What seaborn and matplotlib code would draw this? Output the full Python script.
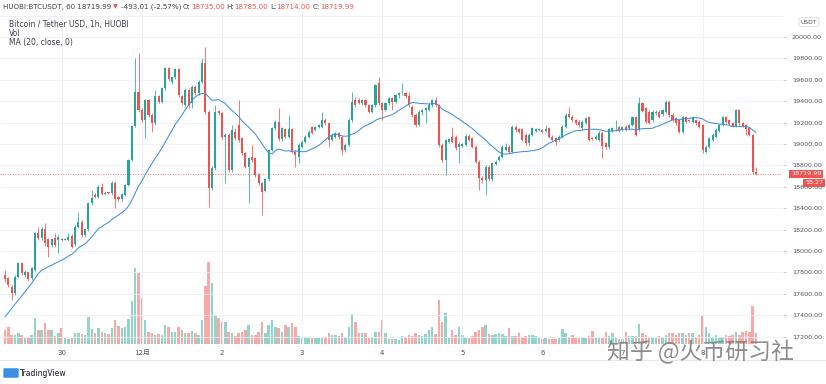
import numpy as np
import pandas as pd
import matplotlib
matplotlib.use("Agg")
import matplotlib.pyplot as plt
import matplotlib.transforms as mtransforms
from matplotlib.lines import Line2D
from matplotlib.patches import FancyBboxPatch
import seaborn as sns

# hourly candles, HUOBI BTC/USDT
opens = [
    17774, 17743, 17665, 17603, 17759, 17884, 17774, 17806, 17743, 17821,
    18164, 18117, 18205, 18108, 18055, 18117, 18102, 18110, 18106, 18102,
    18140, 18065, 18221, 18273, 18149, 18202, 18445, 18523, 18507, 18601,
    18532, 18545, 18538, 18638, 18507, 18482, 18523, 18616, 18850, 19168,
    19489, 19320, 19224, 19411, 19271, 19193, 19448, 19395, 19520, 19707,
    19582, 19623, 19698, 19448, 19364, 19504,
    19380, 19536, 19473, 19582, 19760, 19300, 18585, 18772, 19311, 19286,
    19068, 19084, 18756, 19110, 19177, 19052, 18912, 18788, 18881, 18866,
    18710, 18632, 18563, 18669, 18943, 19146, 19208, 19043, 19137, 19068,
    19137, 18928, 18881, 18975, 19021, 19068, 19155, 19130, 19155, 19161,
    19224, 19193, 19037, 19068, 19099, 19062, 18943, 18990, 19224, 19411,
    19411, 19380, 19411, 19364, 19302, 19364,
    19567, 19380, 19317, 19380, 19427, 19395, 19458, 19473, 19480, 19450,
    19349, 19271, 19177, 19302, 19317, 19317, 19364, 19411, 19364, 18990,
    18850, 19021, 19068, 19068, 18968, 18981, 18990, 19074, 19052, 18975,
    18834, 18678, 18665, 18788, 18669, 18812, 18850, 18881, 18943, 18975,
    18928, 19162, 19137, 19137, 19084, 19006, 19084, 19124, 19130, 19130,
    19124, 19146, 19068, 19052, 19037, 19068, 19162,
    19280, 19255, 19224, 19208, 19146, 19199, 19249, 19055, 19047, 19037,
    19106, 19006, 18968, 19124, 19137, 19155, 19130, 19162, 19146, 19177,
    19249, 19130, 19380, 19333, 19302, 19224, 19286, 19302, 19280, 19302,
    19395, 19271, 19240, 19224, 19115, 19249, 19220, 19208, 19224, 19208,
    19177, 18928, 18975, 19037, 19068, 19124, 19177, 19249, 19224, 19199,
    19168, 19317, 19193, 19177, 19146, 19084, 18735,
]
highs = [
    17821, 17759, 17681, 17774, 17899, 17899, 17820, 17815, 17850, 18180,
    18227, 18227, 18258, 18120, 18125, 18164, 18145, 18120, 18125, 18164,
    18155, 18240, 18367, 18290, 18215, 18460, 18569, 18540, 18616, 18632,
    18560, 18555, 18650, 18650, 18515, 18545, 18630, 18860, 19180, 19801,
    19854, 19335, 19425, 19425, 19285, 19504, 19460, 19535, 19723, 19723,
    19640, 19712, 19712, 19460, 19520, 19520,
    19550, 19550, 19600, 19801, 19910, 19320, 18790, 19364, 19320, 19300,
    19100, 19100, 19177, 19146, 19411, 19065, 18925, 18880, 18990, 18880,
    18725, 18645, 18680, 18955, 19160, 19225, 19333, 19160, 19150, 19271,
    19150, 18940, 19005, 19035, 19080, 19130, 19170, 19165, 19190, 19302,
    19240, 19205, 19100, 19115, 19110, 19075, 19005, 19240, 19489, 19440,
    19430, 19425, 19425, 19375, 19375, 19565,
    19629, 19395, 19395, 19440, 19440, 19470, 19485, 19567, 19490, 19485,
    19360, 19285, 19315, 19330, 19345, 19380, 19425, 19436, 19375, 19005,
    19050, 19055, 19155, 19080, 19015, 19010, 19090, 19090, 19065, 18990,
    18850, 18700, 18800, 18800, 18835, 18850, 18895, 18990, 19006, 18990,
    19175, 19175, 19150, 19150, 19100, 19100, 19160, 19150, 19145, 19140,
    19177, 19160, 19080, 19065, 19080, 19175, 19285,
    19349, 19270, 19235, 19220, 19220, 19255, 19262, 19062, 19080, 19118,
    19118, 19020, 19150, 19160, 19224, 19168, 19168, 19175, 19190, 19262,
    19262, 19436, 19395, 19345, 19315, 19315, 19315, 19315, 19330, 19410,
    19410, 19285, 19255, 19235, 19262, 19262, 19235, 19262, 19235, 19220,
    19190, 18990, 19065, 19100, 19145, 19190, 19262, 19262, 19235, 19210,
    19330, 19330, 19205, 19190, 19160, 19095, 18785,
]
lows = [
    17712, 17665, 17541, 17587, 17743, 17774, 17760, 17720, 17730, 17810,
    18100, 18100, 18050, 17946, 18040, 18040, 17977, 18095, 18098, 18090,
    18024, 18050, 18210, 18135, 18135, 18190, 18430, 18495, 18495, 18520,
    18520, 18530, 18525, 18398, 18470, 18470, 18510, 18605, 18840, 19155,
    19300, 19210, 19052, 19255, 19115, 19180, 19380, 19380, 19505, 19590,
    19560, 19610, 19440, 19365, 19350, 19333,
    19333, 19460, 19460, 19570, 19280, 18413, 18569, 18760, 19270, 19050,
    18632, 18740, 18740, 19040, 19020, 18900, 18775, 18445, 18835, 18695,
    18615, 18336, 18550, 18655, 18930, 19130, 19030, 19030, 19055, 19055,
    18915, 18788, 18819, 18960, 19010, 19055, 19095, 19120, 19145, 19150,
    19180, 18975, 19025, 19055, 19050, 18897, 18925, 18980, 19210, 19350,
    19370, 19365, 19350, 19290, 19290, 19350,
    19365, 19224, 19305, 19365, 19317, 19380, 19430, 19460, 19430, 19350,
    19255, 19160, 19165, 19275, 19195, 19305, 19350, 19350, 18975, 18835,
    18710, 19010, 19005, 18945, 18819, 18970, 18978, 19025, 18960, 18820,
    18569, 18632, 18523, 18655, 18650, 18800, 18840, 18865, 18930, 18915,
    18915, 19115, 19100, 19025, 18990, 18990, 19070, 19110, 19120, 19100,
    19110, 19055, 19025, 18990, 19025, 19055, 19150,
    19240, 19210, 19180, 19160, 19130, 19185, 19025, 19035, 19035, 19025,
    18866, 18955, 18955, 19110, 19125, 19110, 19118, 19118, 19135, 19165,
    19070, 19118, 19300, 19195, 19185, 19210, 19275, 19240, 19265, 19290,
    19255, 19210, 19180, 19100, 19100, 19195, 19205, 19195, 19180, 19150,
    18912, 18915, 18960, 19025, 19055, 19110, 19165, 19195, 19175, 19155,
    19155, 19180, 19155, 19084, 19070, 18720, 18714,
]
closes = [
    17734, 17681, 17603, 17753, 17884, 17790, 17806, 17734, 17837, 18164,
    18117, 18205, 18071, 18040, 18108, 18055, 18133, 18106, 18110, 18133,
    18040, 18227, 18273, 18149, 18202, 18445, 18491, 18507, 18601, 18532,
    18545, 18540, 18638, 18482, 18482, 18532, 18616, 18850, 19168, 19489,
    19317, 19224, 19411, 19271, 19193, 19448, 19395, 19520, 19707, 19604,
    19623, 19698, 19458, 19380, 19504, 19364,
    19536, 19473, 19582, 19760, 19300, 18585, 18772, 19302, 19286, 19068,
    19084, 18756, 19130, 19060, 19037, 18912, 18788, 18866, 18850, 18710,
    18632, 18554, 18669, 18943, 19146, 19208, 19043, 19146, 19068, 19137,
    18928, 18897, 18990, 19021, 19068, 19115, 19106, 19155, 19177, 19224,
    19193, 19037, 19084, 19099, 19062, 18943, 18990, 19224, 19395, 19364,
    19380, 19411, 19364, 19302, 19364, 19551,
    19380, 19317, 19380, 19427, 19395, 19458, 19473, 19480, 19450, 19364,
    19271, 19177, 19302, 19317, 19333, 19364, 19411, 19364, 18990, 18850,
    19037, 19043, 19021, 18959, 18999, 18999, 19074, 19037, 18975, 18834,
    18678, 18665, 18788, 18669, 18819, 18834, 18881, 18975, 18975, 18928,
    19162, 19130, 19115, 19037, 19006, 19084, 19146, 19137, 19130, 19115,
    19137, 19068, 19037, 19021, 19068, 19162, 19271,
    19255, 19224, 19193, 19177, 19208, 19240, 19037, 19047, 19068, 19106,
    18981, 18968, 19137, 19146, 19137, 19124, 19155, 19130, 19177, 19249,
    19084, 19380, 19311, 19208, 19199, 19302, 19302, 19255, 19317, 19395,
    19271, 19224, 19193, 19115, 19249, 19208, 19218, 19249, 19193, 19162,
    18943, 18975, 19052, 19084, 19130, 19177, 19249, 19208, 19186, 19168,
    19317, 19193, 19168, 19137, 19084, 18735, 18719.99,
]
volumes = [
    140, 170, 90, 90, 110, 90, 70, 70, 90, 260,
    140, 140, 210, 140, 140, 80, 110, 160, 60, 50,
    60, 110, 110, 100, 90, 270, 150, 110, 160, 120,
    110, 100, 160, 240, 180, 160, 170, 250, 430, 760,
    710, 460, 240, 120, 110, 90, 100, 90, 190, 170,
    120, 120, 170, 140, 110, 110,
    130, 110, 90, 240, 580, 820, 610, 290, 260, 220,
    220, 120, 110, 80, 110, 120, 140, 190, 90, 90,
    120, 220, 110, 190, 240, 170, 160, 120, 190, 170,
    210, 170, 80, 70, 70, 70, 60, 60, 60, 70,
    70, 110, 90, 90, 80, 110, 70, 170, 300, 220,
    110, 110, 110, 70, 70, 120,
    120, 240, 110, 50, 50, 50, 40, 80, 70, 90,
    80, 110, 90, 80, 100, 140, 170, 100, 440, 220,
    310, 60, 140, 90, 170, 90, 70, 60, 80, 120,
    140, 170, 190, 100, 90, 100, 110, 100, 80, 160,
    80, 80, 110, 70, 80, 90, 90, 80, 60, 50,
    60, 50, 50, 50, 60, 150, 110,
    70, 90, 60, 60, 70, 60, 80, 130, 60, 60,
    60, 120, 80, 110, 70, 50, 50, 120, 80, 80,
    80, 200, 110, 90, 70, 70, 70, 80, 70, 90,
    110, 110, 90, 110, 110, 90, 110, 110, 70, 90,
    290, 170, 110, 70, 90, 70, 70, 90, 80, 90,
    120, 90, 120, 130, 120, 380, 110,
]
# MA(20) as drawn for the first 19 bars (its history lies left of the chart)
ma_lead = [17385, 17422, 17463, 17503, 17541, 17578, 17619, 17659, 17697, 17743,
           17790, 17821, 17837, 17852, 17868, 17884, 17899, 17915, 17930]

start_time = "2020-11-29 07:00"
day_labels = ["30", "12月", "2", "3", "4", "5", "6", "7", "8"]
price_ticks = list(range(17200, 20001, 200))
last_price = 18719.99
countdown = "58:27"
header_parts = [("HUOBI:BTCUSDT, 60 18719.99", "dark"), ("▼", "red"),
                ("-493.01 (-2.57%)", "dark"),
                ("O:", "dark"), ("18735.00", "red"), ("H:", "dark"), ("18785.00", "red"),
                ("L:", "dark"), ("18714.00", "red"), ("C:", "dark"), ("18719.99", "red")]
legend_lines = ["Bitcoin / Tether USD, 1h, HUOBI", "Vol", "MA (20, close, 0)"]

GREEN, RED = "#26a69a", "#ef5350"
VOL_GREEN, VOL_RED = "#92d3cc", "#f7a9a7"
DARK = "#3a3e4a"

n = len(closes)
assert len(opens) == len(highs) == len(lows) == len(volumes) == n

df = pd.DataFrame({"open": opens, "high": highs, "low": lows,
                   "close": closes, "vol": volumes})
df["i"] = np.arange(n)
df["time"] = pd.date_range(start_time, periods=n, freq="h")
df["dir"] = np.where(df["close"] >= df["open"], "up", "down")
ma = df["close"].rolling(20).mean()
ma.iloc[:len(ma_lead)] = ma_lead
df["ma"] = ma

sns.set_theme(style="white")
plt.rcParams["font.family"] = ["DejaVu Sans", "Noto Sans CJK SC"]

fig = plt.figure(figsize=(8.26, 3.84), dpi=100)
W, H = 826, 384
ax = fig.add_axes([0, 40 / H, 783 / W, 344 / H])
axv = ax.twinx()

# volume underneath the candles
sns.barplot(data=df, x="i", y="vol", hue="dir", native_scale=True,
            palette={"up": VOL_GREEN, "down": VOL_RED}, dodge=False,
            errorbar=None, legend=False, saturation=1, width=0.75,
            linewidth=0, ax=axv)
axv.set_ylim(0, 3440)
axv.axis("off")
ax.set_zorder(axv.get_zorder() + 1)
ax.patch.set_visible(False)

# candles
cols = np.where(df["dir"] == "up", GREEN, RED)
body_lo = np.minimum(df["open"], df["close"])
body_h = np.maximum(np.abs(df["close"] - df["open"]), 7)
ax.vlines(df["i"], df["low"], df["high"], colors=cols, lw=0.55, zorder=3)
ax.bar(df["i"], body_h, bottom=body_lo, width=0.62, color=cols,
       linewidth=0, zorder=4)
sns.lineplot(data=df, x="i", y="ma", ax=ax, color="#3f8fdc", lw=0.75, zorder=5)

ax.axhline(last_price, color=RED, lw=0.6, ls=(0, (1, 2)), zorder=2)

ax.set_ylim(17130, 20346)
ax.set_xlim(-1.5, 233.1)

day_pos = df.loc[df["time"].dt.hour == 0, "i"].to_numpy()
ax.set_xticks(day_pos, day_labels)
ax.set_yticks(price_ticks, [f"{p:.2f}" for p in price_ticks])
ax.yaxis.tick_right()
ax.tick_params(axis="y", direction="out", length=2.5, width=0.5,
               color="#b2b5be", labelsize=4.6, labelcolor="#50535e", pad=4)
ax.tick_params(axis="x", length=0, labelsize=5, labelcolor="#50535e", pad=4)
ax.grid(True, color="#eef0f5", lw=0.6, zorder=0)
ax.axhline(20200, color="#eef0f5", lw=0.6, zorder=0)
ax.set_xlabel("")
ax.set_ylabel("")
for s in ax.spines.values():
    s.set_visible(False)

# price scale labels
blend = mtransforms.blended_transform_factory(fig.transFigure, ax.transData)
ax.text(791 / W, last_price, f"{last_price:.2f}", transform=blend,
        ha="left", va="center", fontsize=4.6, color="white", zorder=8,
        clip_on=False,
        bbox=dict(boxstyle="square,pad=0.25", fc=RED, ec="none"))
ax.text(823 / W, last_price, countdown,
        transform=mtransforms.offset_copy(blend, fig=fig, y=-9, units="dots"),
        ha="right", va="center", fontsize=4.6, color="white", zorder=8,
        clip_on=False,
        bbox=dict(boxstyle="square,pad=0.25", fc=RED, ec="none"))
fig.text(809 / W, 1 - 22 / H, "USDT", ha="center", va="center", fontsize=4.3,
         color="#50535e",
         bbox=dict(boxstyle="round,pad=0.3", fc="white", ec="#d1d4dc", lw=0.5))

# legend header, pieces chained one after another
prev = fig.text(3 / W, 1 - 7 / H, header_parts[0][0], fontsize=5.1,
                color=DARK, va="center")
for txt, c in header_parts[1:]:
    gap = 1.2 if txt.endswith(":") or c == "red" else 2.2
    if prev.get_text().endswith(":"):
        gap = 0.3
    prev = ax.annotate(txt, xy=(1, 0.5), xycoords=prev, xytext=(gap, 0),
                       textcoords="offset points", va="center", ha="left",
                       fontsize=4.6 if txt == "▼" else 5.1,
                       color=RED if c == "red" else DARK,
                       annotation_clip=False)
for k, line in enumerate(legend_lines):
    fig.text(9 / W, 1 - (24 + 9 * k) / H, line, fontsize=5.5, color=DARK,
             va="center")

# footer
fig.add_artist(Line2D([0, 1], [1 - 360 / H] * 2, transform=fig.transFigure,
                      color="#e0e3eb", lw=0.6))
fig.add_artist(FancyBboxPatch((5 / W, 1 - 377 / H), 12 / W, 8 / H,
                              boxstyle="round,pad=0.002", transform=fig.transFigure,
                              fc="#3a8ee6", ec="none"))
fig.text(20 / W, 1 - 373 / H, "TradingView", fontsize=5.5, color="#131722",
         va="center")
fig.text(607 / W, 1 - 352 / H, "知乎 @火币研习社", fontsize=16.5,
         family=["Noto Sans CJK SC", "DejaVu Sans"], color="#7a7a7a",
         alpha=0.85, va="center", zorder=10)

fig.savefig("out.png", dpi=100)
